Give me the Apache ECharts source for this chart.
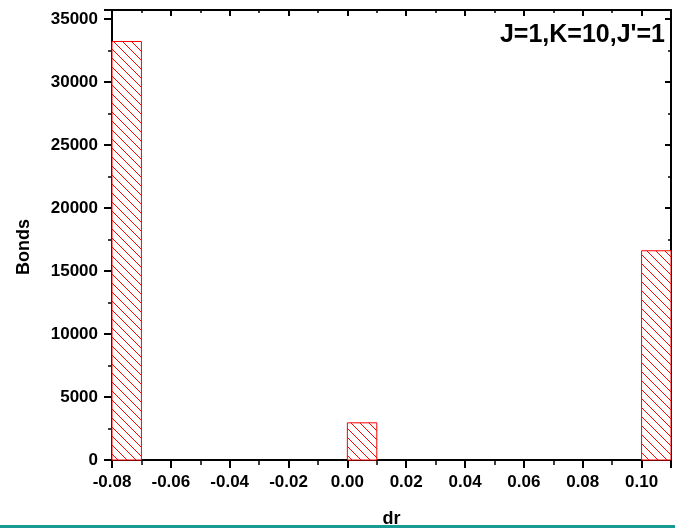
<!DOCTYPE html>
<html>
<head>
<meta charset="utf-8">
<script src="https://cdn.jsdelivr.net/npm/echarts@6/dist/echarts.min.js"></script>
<style>
html,body{margin:0;padding:0;background:#fff;}
#chart{width:675px;height:528px;}
</style>
</head>
<body>
<div id="chart"></div>
<script>
// Histogram bins (dr) and counts (Bonds)
var binStart = [-0.08, 0.00, 0.10];
var binEnd   = [-0.07, 0.01, 0.11];
var counts   = [33200, 2950, 16600];
var xTickLabels = ['-0.08','-0.06','-0.04','-0.02','0.00','0.02','0.04','0.06','0.08','0.10'];
var yTickLabels = ['0','5000','10000','15000','20000','25000','30000','35000'];
var annotation = "J=1,K=10,J'=1";

var FONT = '"Liberation Sans", Arial, sans-serif';

function makeHatch() {
  var s = 9;
  var c = document.createElement('canvas');
  c.width = s; c.height = s;
  var ctx = c.getContext('2d');
  ctx.fillStyle = '#ffffff';
  ctx.fillRect(0, 0, s, s);
  ctx.strokeStyle = '#ff0000';
  ctx.lineWidth = 1;
  ctx.beginPath();
  ctx.moveTo(-1, -1); ctx.lineTo(s + 1, s + 1);
  ctx.moveTo(s - 1, -1); ctx.lineTo(s + 1, 1);
  ctx.moveTo(-1, s - 1); ctx.lineTo(1, s + 1);
  ctx.stroke();
  return c;
}
var hatch = { image: makeHatch(), repeat: 'repeat' };

var data = binStart.map(function (v, i) { return [v, binEnd[i], counts[i]]; });

var chart = echarts.init(document.getElementById('chart'));
var option = {
  animation: false,
  backgroundColor: '#ffffff',
  grid: { left: 112, right: 4, top: 10, bottom: 68, containLabel: false, outerBoundsMode: 'none' },
  xAxis: [{
    type: 'value', position: 'bottom', min: -0.08, max: 0.11, interval: 0.02,
    name: 'dr', nameLocation: 'middle', nameGap: 50,
    nameTextStyle: { color: '#000', fontFamily: FONT, fontSize: 18, fontWeight: 'bold' },
    axisLine: { show: true, onZero: false, lineStyle: { color: '#000', width: 2 } },
    axisTick: { show: true, inside: false, length: 8, lineStyle: { color: '#000', width: 2 } },
    minorTick: { show: true, splitNumber: 2, length: 5, lineStyle: { color: '#000', width: 1.5 } },
    axisLabel: { show: true, margin: 14, showMaxLabel: false, color: '#000', fontFamily: FONT, fontSize: 17, fontWeight: 'bold',
      formatter: function (v) { var i = Math.round((v + 0.08) / 0.02); return xTickLabels[i] || ''; } },
    splitLine: { show: false }
  }, {
    type: 'value', position: 'top', min: -0.08, max: 0.11, interval: 0.02,
    axisLine: { show: true, onZero: false, lineStyle: { color: '#000', width: 2 } },
    axisTick: { show: true, inside: true, length: 6, lineStyle: { color: '#000', width: 2 } },
    minorTick: { show: true, splitNumber: 2, length: 3, lineStyle: { color: '#000', width: 1.5 } },
    axisLabel: { show: false },
    splitLine: { show: false }
  }],
  yAxis: [{
    type: 'value', position: 'left', min: 0, max: 35700, interval: 5000,
    name: 'Bonds', nameLocation: 'middle', nameGap: 79,
    nameTextStyle: { color: '#000', fontFamily: FONT, fontSize: 18, fontWeight: 'bold', padding: [0, 24, 0, 0] },
    axisLine: { show: true, onZero: false, lineStyle: { color: '#000', width: 2 } },
    axisTick: { show: true, inside: false, length: 8, lineStyle: { color: '#000', width: 2 } },
    minorTick: { show: true, splitNumber: 2, length: 4, lineStyle: { color: '#000', width: 1.5 } },
    axisLabel: { show: true, margin: 14, showMaxLabel: false, color: '#000', fontFamily: FONT, fontSize: 17, fontWeight: 'bold',
      formatter: function (v) { var i = Math.round(v / 5000); return (v % 5000 === 0 && yTickLabels[i]) ? yTickLabels[i] : ''; } },
    splitLine: { show: false }
  }, {
    type: 'value', position: 'right', min: 0, max: 35700, interval: 5000,
    axisLine: { show: true, onZero: false, lineStyle: { color: '#000', width: 2 } },
    axisTick: { show: true, inside: true, length: 6, lineStyle: { color: '#000', width: 2 } },
    minorTick: { show: true, splitNumber: 2, length: 3, lineStyle: { color: '#000', width: 1.5 } },
    axisLabel: { show: false },
    splitLine: { show: false }
  }],
  series: [{
    type: 'custom',
    xAxisIndex: 0, yAxisIndex: 0,
    data: data,
    encode: { x: [0, 1], y: 2 },
    renderItem: function (params, api) {
      var p0 = api.coord([api.value(0), api.value(2)]);
      var p1 = api.coord([api.value(1), 0]);
      return {
        type: 'rect',
        shape: { x: p0[0], y: p0[1], width: p1[0] - p0[0], height: p1[1] - p0[1] },
        style: { fill: hatch, stroke: '#ff0000', lineWidth: 1 }
      };
    },
    z: 1
  }],
  graphic: [{
    type: 'text', right: 10, top: 23, z: 10,
    style: { text: annotation, fill: '#000', font: 'bold 25px ' + FONT }
  }, {
    type: 'rect', left: 0, top: 525, z: 100,
    shape: { width: 675, height: 3 },
    style: { fill: '#199994' }
  }]
};
chart.setOption(option);
</script>
</body>
</html>
